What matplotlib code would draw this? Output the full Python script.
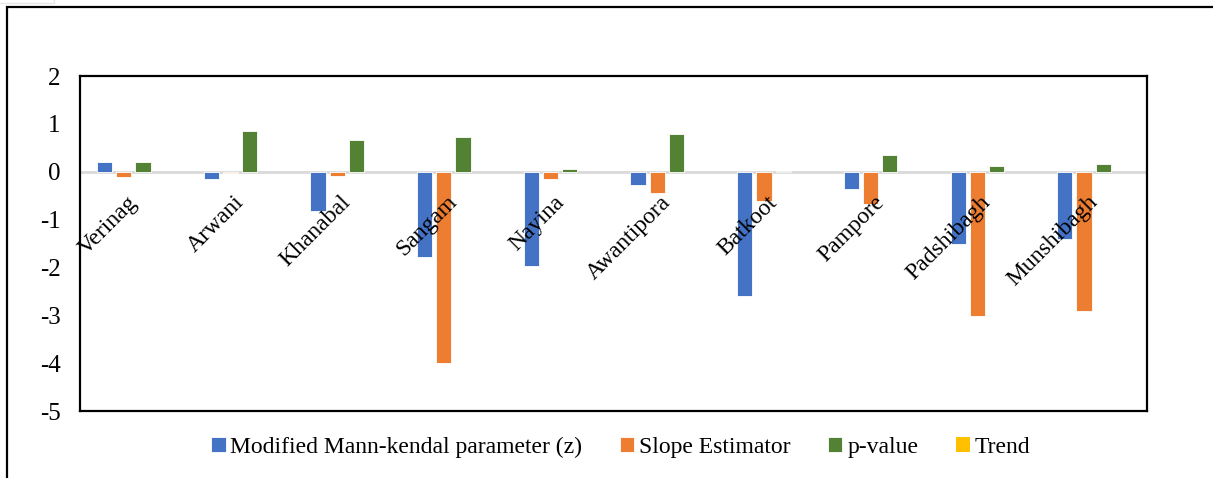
import numpy as np
import matplotlib.pyplot as plt
from matplotlib.patches import Rectangle

plt.rcParams['font.family'] = ['Liberation Serif', 'DejaVu Serif']
plt.rcParams['axes.unicode_minus'] = False

stations = ['Verinag', 'Arwani', 'Khanabal', 'Sangam', 'Nayina',
            'Awantipora', 'Batkoot', 'Pampore', 'Padshibagh', 'Munshibagh']

mk_z = [0.21, -0.16, -0.83, -1.79, -1.98, -0.28, -2.60, -0.37, -1.52, -1.40]
slope = [-0.11, -0.03, -0.08, -4.00, -0.15, -0.45, -0.61, -0.67, -3.01, -2.92]
p_value = [0.21, 0.86, 0.66, 0.73, 0.05, 0.79, 0.02, 0.34, 0.12, 0.17]
trend = [0, 0, 0, 0, 0, 0, 0, 0, 0, 0]

series = [mk_z, slope, p_value, trend]
names = ['Modified Mann-kendal parameter (z)', 'Slope Estimator', 'p-value', 'Trend']
colors = ['#4472C4', '#ED7D31', '#548235', '#FFC000']

fig = plt.figure(figsize=(12.13, 4.78), dpi=100)
ax = fig.add_axes([80 / 1213, 1 - 411 / 478, (1147 - 80) / 1213, (411 - 76) / 478])

x = np.arange(len(stations))
step = 0.18
width = 0.143
for i, (vals, name, c) in enumerate(zip(series, names, colors)):
    lw = 0.6 if any(vals) else 0
    ax.bar(x + (i - 1.5) * step, vals, width, color=c, label=name,
           edgecolor='white', linewidth=lw, zorder=2)

ax.axhline(0, color='#D9D9D9', linewidth=2, zorder=1)
ax.set_xlim(-0.5, len(stations) - 0.5)
ax.set_ylim(-5, 2)
ax.set_yticks(range(-5, 3))
ax.set_xticks([])
ax.tick_params(axis='y', length=0, labelsize=18, pad=14)
for s in ax.spines.values():
    s.set_linewidth(1.6)
    s.set_color('black')

# station names sit just under the zero line, tilted
for xi, name in zip(x, stations):
    ax.annotate(name, (xi, 0), xytext=(8, -20), textcoords='offset pixels',
                rotation=45, ha='right', va='top', fontsize=17, zorder=3)

leg = fig.legend(loc='center', bbox_to_anchor=(621 / 1213, 1 - 447 / 478),
                 ncol=4, frameon=False, fontsize=17, handlelength=0.6,
                 handleheight=0.6, handletextpad=0.2, columnspacing=1.6)

# outer chart border
fig.patches.append(Rectangle((7 / 1213, -0.1), 1.2, 1 - 7 / 478 + 0.1,
                             transform=fig.transFigure, fill=False,
                             edgecolor='black', linewidth=1.6))
fig.patches.append(Rectangle((-0.01, 1 - 3 / 478), 66 / 1213, 0.1,
                             transform=fig.transFigure, fill=False,
                             edgecolor='#E6E6E6', linewidth=1))

fig.savefig('out.png', dpi=100)
